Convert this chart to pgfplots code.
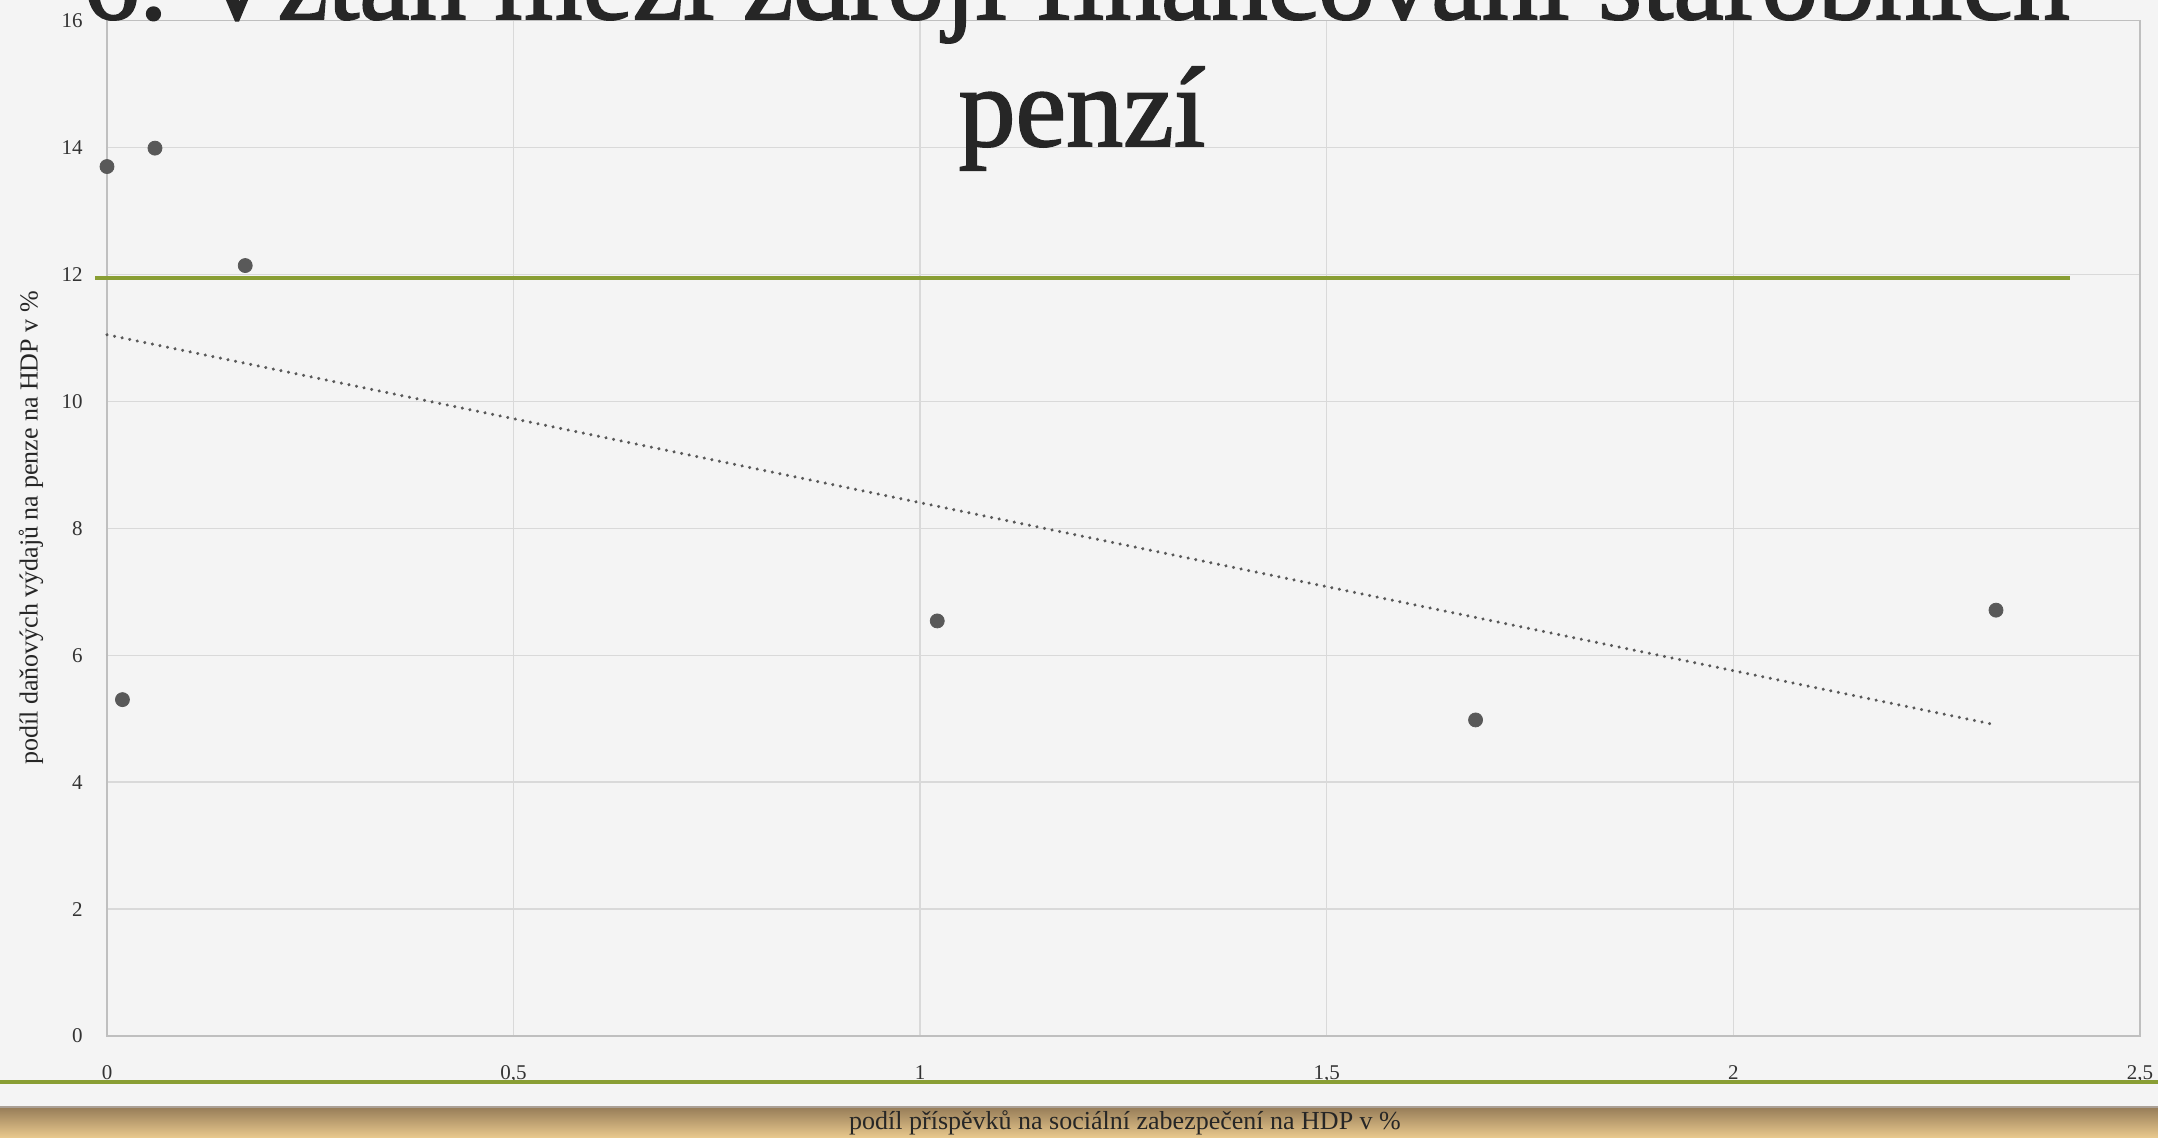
\documentclass[border=0pt]{standalone}
\usepackage{pgfplots}
\pgfplotsset{compat=1.18}
\usepackage{fontspec}
\setmainfont{Liberation Serif}
\newfontfamily\titlefont{Liberation Serif}[FakeBold=1.6]
\definecolor{bg}{HTML}{F4F4F4}
\definecolor{gridc}{HTML}{D9D9D9}
\definecolor{axc}{HTML}{BFBFBF}
\definecolor{ptc}{HTML}{595959}
\definecolor{olive}{HTML}{899E34}
\definecolor{txt}{HTML}{262626}
\definecolor{ticktxt}{HTML}{333333}
\definecolor{bandtop}{RGB}{150,124,88}
\definecolor{bandmid}{RGB}{214,180,122}
\definecolor{bandbot}{RGB}{234,202,142}
\definecolor{bandline}{RGB}{170,160,150}
\begin{document}
\begin{tikzpicture}
\useasboundingbox (0,0) rectangle (1079pt,569pt);
\clip (0,0) rectangle (1079pt,569pt);
\fill[bg] (0,0) rectangle (1079pt,569pt);
\begin{axis}[
  at={(53.5pt,51pt)}, anchor=south west,
  scale only axis, width=1016.5pt, height=507.7pt,
  xmin=0, xmax=2.5, ymin=0, ymax=16,
  xtick={0,0.5,1,1.5,2,2.5},
  xticklabels={0,{0,5},1,{1,5},2,{2,5}},
  ytick={0,2,4,6,8,10,12,14,16},
  major tick length=0pt,
  grid=major,
  major grid style={gridc, line width=0.7pt},
  axis line style={axc, line width=0.8pt},
  /pgf/number format/assume math mode=true,
  tick label style={font=\fontsize{10.5}{12}\selectfont, text=ticktxt},
  xticklabel style={anchor=base, yshift=-22pt},
  yticklabel style={anchor=east, inner sep=0pt, xshift=-12pt},
  clip=false,
]
\addplot[only marks, mark=*, mark size=3.5pt, color=ptc, mark options={draw=ptc, fill=ptc}]
  coordinates {(0,13.70) (0.059,13.99) (0.019,5.30) (0.170,12.14) (1.021,6.54) (1.683,4.98) (2.323,6.71)};
\addplot[ptc, line width=1.7pt, line cap=round, dash pattern=on 0.01pt off 3.85pt]
  coordinates {(0,11.05) (2.316,4.92)};
\end{axis}
% slide decorations
\draw[olive, line width=2pt] (47.5pt,430pt) -- (1035pt,430pt);
\draw[olive, line width=2pt] (0pt,28.2pt) -- (1079pt,28.2pt);
\shade[top color=bandtop, middle color=bandmid, bottom color=bandbot] (0,0) rectangle (1079pt,15.5pt);
\draw[bandline, line width=0.6pt] (0,15.5pt) -- (1079pt,15.5pt);
% title
\node[anchor=base, text=txt, font=\titlefont\fontsize{56.6}{60}\selectfont, inner sep=0pt] at (538pt,559.5pt) {6.\ Vztah mezi zdroji financování starobních};
\node[anchor=base, text=txt, font=\titlefont\fontsize{57}{60}\selectfont, inner sep=0pt] at (541pt,496pt) {penzí};
% axis titles
\node[rotate=90, text=txt, font=\fontsize{13}{15}\selectfont, inner sep=0pt] at (15.5pt,305pt) {podíl daňových výdajů na penze na HDP v \%};
\node[text=txt, font=\fontsize{13}{15}\selectfont, inner sep=0pt] at (562.5pt,7.5pt) {podíl příspěvků na sociální zabezpečení na HDP v \%};
\end{tikzpicture}
\end{document}
